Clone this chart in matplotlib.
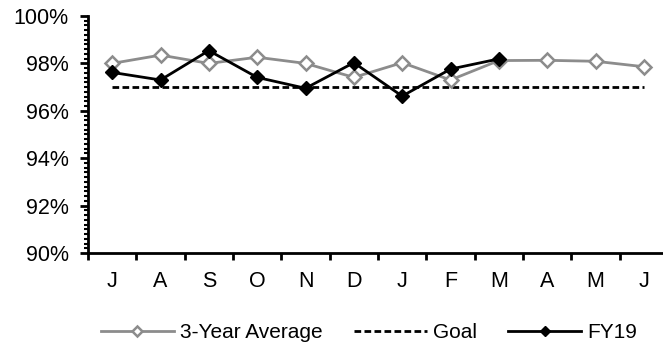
import matplotlib
matplotlib.use("Agg")
import matplotlib.pyplot as plt
from matplotlib.ticker import MultipleLocator, FuncFormatter

plt.rcParams['font.family'] = ['Liberation Sans', 'DejaVu Sans']

months = ["J", "A", "S", "O", "N", "D", "J", "F", "M", "A", "M", "J"]
avg3 = [98.0, 98.35, 98.0, 98.26, 98.0, 97.41, 98.03, 97.3, 98.12, 98.13, 98.09, 97.86]
goal = [97.0] * 12
fy19 = [97.62, 97.3, 98.54, 97.41, 96.95, 98.03, 96.62, 97.76, 98.19]

W, H = 663, 344
fig = plt.figure(figsize=(W / 100, H / 100), dpi=100)
left, right, top, bottom = 88, 668, 16, 253
ax = fig.add_axes([left / W, 1 - bottom / H, (W - left) / W, (bottom - top) / H])

step = (right - left) / 12.0
x = list(range(len(months)))
ax.plot(x, avg3, color='#8c8c8c', lw=2, marker='D', ms=7, mfc='white', mec='#8c8c8c', mew=1.8,
        label='3-Year Average', zorder=3)
ax.plot(x, goal, color='black', lw=2, ls=(0, (2.4, 1.2)), label='Goal', zorder=2)
ax.plot(range(len(fy19)), fy19, color='black', lw=2, marker='D', ms=7, mfc='black', mec='black',
        label='FY19', zorder=4)

ax.set_ylim(90, 100)
ax.set_xlim(-0.5, -0.5 + (W - left) / step)
ax.yaxis.set_major_locator(MultipleLocator(2))
ax.yaxis.set_minor_locator(MultipleLocator(0.2))
ax.yaxis.set_major_formatter(FuncFormatter(lambda v, p: f"{v:.0f}%"))
ax.set_xticks([i - 0.5 for i in range(len(months))])
ax.set_xticklabels([])
ax.set_xticks(x, minor=True)
ax.set_xticklabels(months, minor=True)
ax.tick_params(axis='x', which='major', direction='out', length=5, width=2)
ax.tick_params(axis='x', which='minor', length=0, pad=13, labelsize=15.5)
ax.tick_params(axis='y', which='major', direction='out', length=6, width=2, labelsize=15.5, pad=8)
ax.tick_params(axis='y', which='minor', direction='out', length=3, width=1.5)
for s in ['top', 'right']:
    ax.spines[s].set_visible(False)
for s in ['left', 'bottom']:
    ax.spines[s].set_linewidth(2)

fig.legend(loc='center', bbox_to_anchor=(369 / W, 1 - 333 / H), ncol=3, frameon=False,
           fontsize=15, handlelength=3.5, columnspacing=1.5, handletextpad=0.3,
           borderpad=0, borderaxespad=0, markerscale=0.8)

fig.savefig('out.png', dpi=100)
